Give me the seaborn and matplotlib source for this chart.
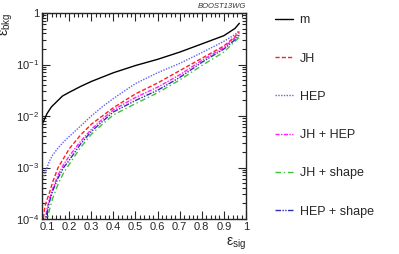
import numpy as np
import pandas as pd
import matplotlib
matplotlib.use("Agg")
import matplotlib.pyplot as plt
import matplotlib.ticker as mticker
import seaborn as sns

# signal efficiency grid (shared by the tagger curves)
sig = [0.08, 0.09, 0.1, 0.11, 0.125, 0.15, 0.175, 0.2, 0.25, 0.3, 0.35, 0.4,
       0.5, 0.6, 0.7, 0.8, 0.9, 0.95, 0.97]

# mass-only curve has its own points (kink near 0.17)
sig_m = [0.077, 0.1, 0.12, 0.17, 0.2, 0.25, 0.3, 0.4, 0.5, 0.6, 0.7, 0.8, 0.9, 0.95, 0.97]
bkg_m = [0.0068, 0.0112, 0.0151, 0.0245, 0.0288, 0.0372, 0.0468, 0.0692, 0.0955,
         0.126, 0.174, 0.251, 0.363, 0.501, 0.631]

bkg_jh = [7.9e-5, 1.74e-4, 2.4e-4, 3.16e-4, 5.2e-4, 1.0e-3, 1.51e-3, 2.3e-3, 4.2e-3,
          6.9e-3, 0.010, 0.0145, 0.0269, 0.0437, 0.0759, 0.132, 0.229, 0.347, 0.437]
bkg_hep = [6.0e-4, 7.8e-4, 1.0e-3, 1.32e-3, 1.74e-3, 2.4e-3, 3.16e-3, 3.98e-3, 6.3e-3,
           0.010, 0.0151, 0.0219, 0.0427, 0.0692, 0.105, 0.17, 0.282, 0.38, 0.457]
bkg_jh_hep = [4.0e-5, 8.9e-5, 1.58e-4, 2.4e-4, 3.8e-4, 7.2e-4, 1.15e-3, 1.66e-3, 3.16e-3,
              5.5e-3, 8.7e-3, 0.0132, 0.0229, 0.0363, 0.063, 0.12, 0.214, 0.331, 0.407]
bkg_jh_shape = [2.5e-5, 5.0e-5, 8.9e-5, 1.48e-4, 2.5e-4, 4.8e-4, 7.9e-4, 1.15e-3, 2.4e-3,
                4.4e-3, 6.9e-3, 0.0105, 0.0174, 0.0282, 0.050, 0.0955, 0.174, 0.282, 0.339]
bkg_hep_shape = [4.0e-5, 7.9e-5, 1.32e-4, 2.1e-4, 3.5e-4, 6.3e-4, 1.0e-3, 1.38e-3, 2.8e-3,
                 5.0e-3, 7.8e-3, 0.012, 0.020, 0.0316, 0.056, 0.11, 0.20, 0.302, 0.372]

labels = ["m", "JH", "HEP", "JH + HEP", "JH + shape", "HEP + shape"]
colors = ["black", "#ff2020", "#6060ff", "#ff20ff", "#40c040", "#3030b0"]
dashes = ["-", (0, (3, 1.5)), (0, (1, 1)), (0, (3, 1, 1, 1)), (0, (4, 2, 1, 2)), (0, (4, 1, 1, 1, 1, 1))]

sns.set_style("ticks")
plt.rcParams["font.family"] = ["Liberation Sans", "DejaVu Sans"]
plt.rcParams["mathtext.fontset"] = "custom"
plt.rcParams["mathtext.rm"] = "Liberation Sans"
plt.rcParams["mathtext.it"] = "Liberation Sans:italic"

fig = plt.figure(figsize=(3.99, 2.54), dpi=100)
ax = fig.add_axes([42 / 399, 1 - 219 / 254, 204 / 399, 206 / 254])

curves = [(sig_m, bkg_m), (sig, bkg_jh), (sig, bkg_hep), (sig, bkg_jh_hep),
          (sig, bkg_jh_shape), (sig, bkg_hep_shape)]
handles = []
for (xs, ys), lab, col, ls in zip(curves, labels, colors, dashes):
    sns.lineplot(x=xs, y=ys, ax=ax, color=col, linewidth=1.0, label=lab, legend=False)
    ln = ax.lines[-1]
    ln.set_linestyle(ls)
    handles.append(ln)

ax.set_yscale("log")
ax.set_xlim(0.077, 1.0)
ax.set_ylim(1e-4, 1)

ax.xaxis.set_minor_locator(mticker.MultipleLocator(0.02))
ax.set_xticks([0.1, 0.2, 0.3, 0.4, 0.5, 0.6, 0.7, 0.8, 0.9, 1.0])
ax.set_xticklabels(["0.1", "0.2", "0.3", "0.4", "0.5", "0.6", "0.7", "0.8", "0.9", "1"])
ax.set_yticks([1e-4, 1e-3, 1e-2, 1e-1, 1])
ax.set_yticklabels([r"$10^{-4}$", r"$10^{-3}$", r"$10^{-2}$", r"$10^{-1}$", "1"])
ax.yaxis.set_minor_locator(mticker.LogLocator(base=10, subs=np.arange(2, 10)))
ax.yaxis.set_minor_formatter(mticker.NullFormatter())

ax.tick_params(which="both", direction="in", top=True, right=True, labelsize=8, pad=2)
ax.tick_params(which="major", length=6, width=0.8)
ax.tick_params(which="minor", length=3, width=0.8)
for sp in ax.spines.values():
    sp.set_linewidth(1.0)

ax.set_xlabel("$\\mathrm{ε}_{\\mathrm{sig}}$", fontsize=10, ha="right")
ax.xaxis.set_label_coords(1.0, -0.08)
ax.set_ylabel("$\\mathrm{ε}_{\\mathrm{bkg}}$", fontsize=10, ha="right")
ax.yaxis.set_label_coords(-0.13, 1.0)

fig.text(246 / 399, 1 - 7 / 254, "BOOST13WG", fontsize=5.5, style="italic",
         ha="right", va="center", color="#333333")

fig.legend(handles, labels, loc="upper left", bbox_to_anchor=(264 / 399, 1 - 3 / 254),
           frameon=False, fontsize=9, handlelength=1.45, handletextpad=0.5,
           labelspacing=2.1)

fig.savefig("out.png", dpi=100)
